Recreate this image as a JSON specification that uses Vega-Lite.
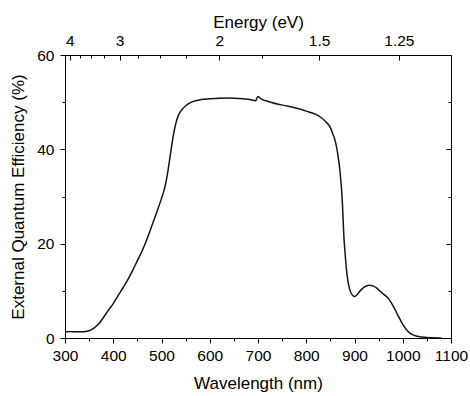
{
  "$schema": "https://vega.github.io/schema/vega-lite/v6.json",
  "width": 386,
  "height": 283,
  "autosize": {"type": "none"},
  "padding": {"left": 65, "top": 55, "right": 19, "bottom": 58},
  "background": "white",
  "config": {
    "view": {"stroke": "black", "strokeWidth": 1},
    "font": "Liberation Sans",
    "axis": {
      "grid": false,
      "labelFont": "Liberation Sans",
      "labelFontSize": 15.5,
      "labelColor": "black",
      "titleFont": "Liberation Sans",
      "titleFontSize": 17,
      "titleFontWeight": "normal",
      "titleColor": "black",
      "tickColor": "black",
      "domainColor": "black",
      "tickWidth": 1,
      "domainWidth": 1
    }
  },
  "data": {
    "values": [
      {"wavelength": 300, "eqe": 1.4},
      {"wavelength": 305, "eqe": 1.3},
      {"wavelength": 310, "eqe": 1.4},
      {"wavelength": 315, "eqe": 1.3},
      {"wavelength": 320, "eqe": 1.35},
      {"wavelength": 330, "eqe": 1.3},
      {"wavelength": 340, "eqe": 1.35},
      {"wavelength": 350, "eqe": 1.55},
      {"wavelength": 360, "eqe": 2.1},
      {"wavelength": 370, "eqe": 3.0},
      {"wavelength": 380, "eqe": 4.4},
      {"wavelength": 390, "eqe": 5.9},
      {"wavelength": 400, "eqe": 7.3},
      {"wavelength": 410, "eqe": 9.0},
      {"wavelength": 420, "eqe": 10.6},
      {"wavelength": 430, "eqe": 12.3},
      {"wavelength": 440, "eqe": 14.3},
      {"wavelength": 450, "eqe": 16.4},
      {"wavelength": 460, "eqe": 18.5},
      {"wavelength": 470, "eqe": 21.0},
      {"wavelength": 480, "eqe": 23.8},
      {"wavelength": 490, "eqe": 26.6},
      {"wavelength": 500, "eqe": 29.6},
      {"wavelength": 505, "eqe": 31.2},
      {"wavelength": 510, "eqe": 33.4},
      {"wavelength": 515, "eqe": 36.5},
      {"wavelength": 520, "eqe": 40.0},
      {"wavelength": 525, "eqe": 43.2},
      {"wavelength": 530, "eqe": 45.6},
      {"wavelength": 535, "eqe": 47.2},
      {"wavelength": 540, "eqe": 48.1},
      {"wavelength": 550, "eqe": 49.2},
      {"wavelength": 560, "eqe": 49.9},
      {"wavelength": 570, "eqe": 50.3},
      {"wavelength": 580, "eqe": 50.5},
      {"wavelength": 600, "eqe": 50.7},
      {"wavelength": 620, "eqe": 50.85},
      {"wavelength": 640, "eqe": 50.9},
      {"wavelength": 660, "eqe": 50.8},
      {"wavelength": 680, "eqe": 50.6},
      {"wavelength": 690, "eqe": 50.4},
      {"wavelength": 695, "eqe": 50.3},
      {"wavelength": 700, "eqe": 51.2},
      {"wavelength": 705, "eqe": 50.8},
      {"wavelength": 710, "eqe": 50.5},
      {"wavelength": 720, "eqe": 50.2},
      {"wavelength": 740, "eqe": 49.6},
      {"wavelength": 760, "eqe": 49.2},
      {"wavelength": 780, "eqe": 48.7},
      {"wavelength": 800, "eqe": 48.1},
      {"wavelength": 820, "eqe": 47.4},
      {"wavelength": 830, "eqe": 46.8},
      {"wavelength": 840, "eqe": 45.9},
      {"wavelength": 850, "eqe": 44.6},
      {"wavelength": 855, "eqe": 43.3},
      {"wavelength": 860, "eqe": 41.8},
      {"wavelength": 865, "eqe": 39.2},
      {"wavelength": 870, "eqe": 35.3},
      {"wavelength": 875, "eqe": 28.5},
      {"wavelength": 878, "eqe": 21.5},
      {"wavelength": 880, "eqe": 18.6},
      {"wavelength": 885, "eqe": 13.0},
      {"wavelength": 890, "eqe": 10.3},
      {"wavelength": 895, "eqe": 9.2},
      {"wavelength": 900, "eqe": 8.8},
      {"wavelength": 905, "eqe": 9.1},
      {"wavelength": 910, "eqe": 9.8},
      {"wavelength": 920, "eqe": 10.8},
      {"wavelength": 930, "eqe": 11.2},
      {"wavelength": 940, "eqe": 11.0},
      {"wavelength": 950, "eqe": 10.2},
      {"wavelength": 960, "eqe": 9.3},
      {"wavelength": 970, "eqe": 8.4},
      {"wavelength": 980, "eqe": 6.8},
      {"wavelength": 990, "eqe": 4.8},
      {"wavelength": 1000, "eqe": 2.9},
      {"wavelength": 1010, "eqe": 1.5},
      {"wavelength": 1020, "eqe": 0.7},
      {"wavelength": 1030, "eqe": 0.35},
      {"wavelength": 1040, "eqe": 0.2},
      {"wavelength": 1050, "eqe": 0.1},
      {"wavelength": 1060, "eqe": 0.05},
      {"wavelength": 1080, "eqe": 0.02}
    ]
  },
  "layer": [
    {
      "mark": {"type": "line", "color": "#151515", "strokeWidth": 1.5, "interpolate": "monotone"},
      "encoding": {
        "x": {
          "field": "wavelength",
          "type": "quantitative",
          "scale": {"domain": [300, 1100], "nice": false, "zero": false},
          "axis": {
            "orient": "bottom",
            "title": "Wavelength (nm)",
            "format": "d",
            "values": [300, 350, 400, 450, 500, 550, 600, 650, 700, 750, 800, 850, 900, 950, 1000, 1050, 1100],
            "labelExpr": "datum.value % 100 === 0 ? datum.label : ''",
            "tickSize": {"condition": {"test": "datum.value % 100 === 0", "value": 5}, "value": 3},
            "labelPadding": 5,
            "titlePadding": 12,
            "labelFlush": false,
            "labelOverlap": false
          }
        },
        "y": {
          "field": "eqe",
          "type": "quantitative",
          "scale": {"domain": [0, 60], "nice": false},
          "axis": {
            "orient": "left",
            "title": "External Quantum Efficiency (%)",
            "values": [0, 10, 20, 30, 40, 50, 60],
            "labelExpr": "datum.value % 20 === 0 ? datum.label : ''",
            "tickSize": {"condition": {"test": "datum.value % 20 === 0", "value": 5}, "value": 3},
            "labelPadding": 6,
            "titlePadding": 9,
            "labelFlush": false,
            "labelOverlap": false
          }
        }
      }
    },
    {
      "mark": {"type": "line", "opacity": 0},
      "encoding": {
        "x": {
          "field": "wavelength",
          "type": "quantitative",
          "scale": {"domain": [300, 1100], "nice": false, "zero": false},
          "axis": {
            "orient": "top",
            "title": "Energy (eV)",
            "domain": false,
            "values": [310, 330.6667, 354.2857, 381.5385, 413.3333, 450.9091, 496, 551.1111, 620, 708.5714, 826.6667, 992],
            "labelExpr": "indexof([310, 413.3333, 620, 826.6667, 992], datum.value) >= 0 ? format(1240 / datum.value, '.3~g') : ''",
            "tickSize": {"condition": {"test": "indexof([310, 413.3333, 620, 826.6667, 992], datum.value) >= 0", "value": -5}, "value": -3},
            "labelPadding": 12,
            "titlePadding": 0,
            "labelFlush": false,
            "labelOverlap": false
          }
        },
        "y": {
          "field": "eqe",
          "type": "quantitative",
          "scale": {"domain": [0, 60], "nice": false},
          "axis": {
            "orient": "right",
            "title": null,
            "domain": false,
            "labels": false,
            "values": [0, 10, 20, 30, 40, 50, 60],
            "tickSize": {"condition": {"test": "datum.value % 20 === 0", "value": -5}, "value": -3}
          }
        }
      }
    }
  ],
  "resolve": {"axis": {"x": "independent", "y": "independent"}}
}
